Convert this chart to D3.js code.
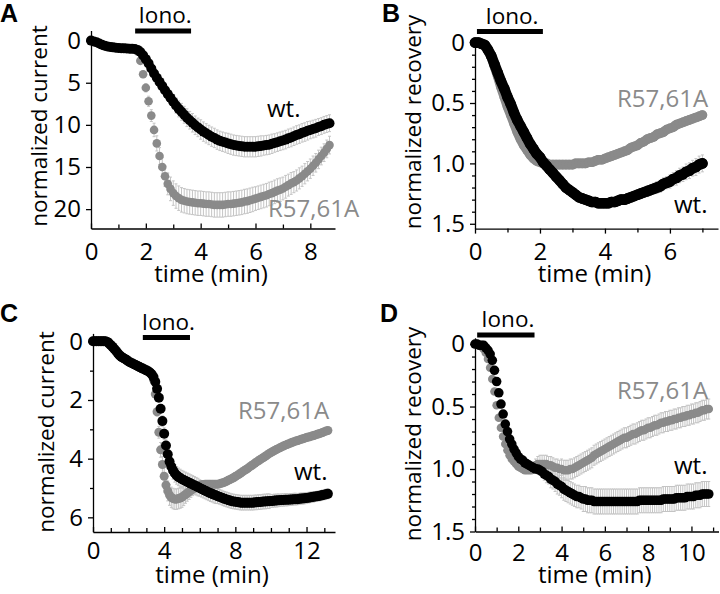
<!DOCTYPE html>
<html><head><meta charset="utf-8">
<script src="https://cdn.jsdelivr.net/npm/d3@7"></script>
<style>body{margin:0;background:#fff}svg{display:block}</style>
</head><body><svg id="fig" width="720" height="594"></svg>
<script>
// ---------------- DATA ----------------
// acquisition interval (minutes) between successive points
const SAMPLE_MIN = 0.1;

// Panel A : normalized current
const A_wt = [0,0.1,0.2,0.35,0.5,0.6,0.7,0.75,0.8,0.85,
0.88,0.9,0.92,0.94,0.96,0.98,1.0,1.1,1.35,1.75,
2.2,2.7,3.3,3.9,4.4,4.9,5.4,5.9,6.35,6.8,
7.25,7.7,8.1,8.45,8.8,9.15,9.45,9.75,10.05,10.3,
10.55,10.8,11,11.2,11.4,11.55,11.75,11.9,12,12.1,
12.2,12.3,12.4,12.45,12.5,12.55,12.6,12.6,12.6,12.6,
12.6,12.55,12.5,12.45,12.4,12.35,12.25,12.15,12.05,11.95,
11.85,11.75,11.6,11.5,11.35,11.2,11.1,10.95,10.85,10.7,
10.6,10.5,10.4,10.25,10.15,10,9.9,9.8];
const A_wt_err = [0.1,0.1,0.1,0.1,0.1,0.1,0.1,0.1,0.1,0.1,
0.1,0.1,0.1,0.1,0.1,0.1,0.1,0.1,0.1,0.1,
0.25,0.35,0.45,0.5,0.55,0.6,0.65,0.7,0.75,0.8,
0.85,0.9,0.95,1.0,1.0,1.05,1.05,1.1,1.1,1.1,
1.15,1.15,1.15,1.15,1.15,1.15,1.15,1.15,1.15,1.15,
1.2,1.2,1.2,1.2,1.2,1.2,1.2,1.2,1.2,1.2,
1.2,1.2,1.2,1.15,1.15,1.15,1.15,1.1,1.1,1.1,
1.1,1.1,1.1,1.1,1.1,1.1,1.1,1.1,1.1,1.1,
1.05,1.05,1.05,1.0,1.0,1.0,1.0,1.0];
const A_mut = [0,0.1,0.2,0.35,0.5,0.6,0.7,0.75,0.8,0.85,
0.88,0.9,0.92,0.94,0.96,0.98,1.0,1.3,2.4,4.0,
5.6,7.2,8.9,10.6,12.2,13.7,15.0,16.1,17.0,17.6,
18.1,18.45,18.7,18.9,19.0,19.1,19.15,19.2,19.25,19.3,
19.3,19.35,19.4,19.4,19.45,19.5,19.5,19.5,19.5,19.45,
19.4,19.4,19.35,19.3,19.25,19.2,19.1,19.05,18.95,18.85,
18.75,18.65,18.55,18.45,18.35,18.2,18.1,17.95,17.8,17.7,
17.55,17.35,17.15,16.95,16.8,16.6,16.35,16.1,15.8,15.5,
15.2,14.85,14.5,14.1,13.7,13.3,12.85,12.4];
const A_mut_err = [0.1,0.1,0.1,0.1,0.1,0.1,0.1,0.1,0.1,0.1,
0.1,0.1,0.1,0.1,0.1,0.1,0.1,0.2,0.3,0.4,
0.5,0.6,0.7,0.8,0.9,1.0,1.1,1.2,1.3,1.4,
1.45,1.45,1.45,1.45,1.45,1.45,1.45,1.45,1.45,1.45,
1.45,1.45,1.45,1.45,1.45,1.45,1.45,1.45,1.45,1.45,
1.45,1.45,1.45,1.45,1.45,1.45,1.45,1.45,1.45,1.45,
1.4,1.4,1.4,1.4,1.4,1.4,1.4,1.4,1.4,1.4,
1.35,1.35,1.3,1.3,1.25,1.25,1.25,1.2,1.2,1.15,
1.15,1.15,1.1,1.1,1.05,1.05,1.05,1.05];

// Panel B : normalized recovery
const B_wt = [0,0,0.01,0.02,0.06,0.11,0.18,0.25,0.32,0.38,
0.45,0.51,0.58,0.64,0.69,0.74,0.79,0.84,0.88,0.92,
0.95,0.99,1.02,1.05,1.08,1.11,1.14,1.17,1.2,1.22,
1.24,1.26,1.28,1.29,1.3,1.31,1.32,1.32,1.33,1.33,
1.33,1.33,1.32,1.32,1.31,1.3,1.3,1.29,1.28,1.27,
1.26,1.25,1.24,1.23,1.22,1.21,1.2,1.19,1.17,1.16,
1.15,1.13,1.12,1.1,1.09,1.07,1.06,1.04,1.03,1.01,
1.0];
const B_wt_err = [0.01,0.01,0.01,0.01,0.01,0.01,0.01,0.01,0.01,0.01,
0.01,0.01,0.01,0.01,0.01,0.01,0.01,0.01,0.01,0.01,
0.01,0.01,0.01,0.01,0.01,0.015,0.02,0.02,0.02,0.025,
0.03,0.03,0.03,0.03,0.03,0.03,0.03,0.03,0.03,0.03,
0.035,0.035,0.035,0.035,0.035,0.035,0.035,0.035,0.035,0.035,
0.04,0.04,0.04,0.045,0.045,0.045,0.05,0.05,0.05,0.05,
0.055,0.055,0.06,0.06,0.06,0.065,0.065,0.065,0.07,0.07,
0.07];
const B_mut = [0,0,0.01,0.03,0.07,0.12,0.2,0.28,0.37,0.45,
0.53,0.6,0.67,0.74,0.8,0.85,0.89,0.93,0.96,0.98,
0.99,1.0,1.0,1.01,1.01,1.01,1.01,1.01,1.01,1.01,
1.01,1.0,1.0,1.0,1.0,0.99,0.99,0.98,0.97,0.97,
0.96,0.95,0.94,0.93,0.92,0.91,0.9,0.89,0.87,0.86,
0.85,0.83,0.82,0.8,0.79,0.78,0.76,0.75,0.74,0.72,
0.71,0.7,0.68,0.67,0.66,0.65,0.64,0.63,0.62,0.61,
0.6];
const B_mut_err = [0.01,0.01,0.01,0.01,0.01,0.01,0.01,0.01,0.01,0.01,
0.01,0.01,0.01,0.01,0.01,0.01,0.01,0.01,0.01,0.01,
0.01,0.01,0.01,0.01,0.01,0.01,0.01,0.01,0.01,0.01,
0.01,0.01,0.01,0.01,0.01,0.01,0.01,0.01,0.01,0.01,
0.01,0.01,0.01,0.01,0.01,0.01,0.01,0.01,0.01,0.01,
0.01,0.01,0.01,0.01,0.01,0.01,0.01,0.01,0.01,0.01,
0.01,0.01,0.01,0.01,0.01,0.01,0.01,0.01,0.01,0.01,
0.01];

// Panel C : normalized current
const C_wt = [0,0,0,0,0,0,0,0,0.02,0.07,
0.13,0.19,0.26,0.33,0.41,0.48,0.53,0.57,0.6,0.64,
0.69,0.72,0.75,0.78,0.81,0.84,0.87,0.9,0.93,0.96,
0.99,1.02,1.06,1.12,1.22,1.38,1.62,1.92,2.3,2.72,
3.15,3.55,3.85,4.1,4.27,4.4,4.5,4.57,4.62,4.66,
4.7,4.73,4.76,4.79,4.82,4.85,4.88,4.91,4.94,4.97,
5.0,5.03,5.06,5.09,5.12,5.15,5.18,5.2,5.23,5.25,
5.28,5.3,5.32,5.35,5.37,5.39,5.41,5.43,5.45,5.46,
5.47,5.48,5.49,5.5,5.5,5.5,5.5,5.5,5.5,5.5,
5.5,5.49,5.49,5.48,5.48,5.47,5.46,5.46,5.45,5.45,
5.44,5.44,5.43,5.43,5.42,5.42,5.41,5.41,5.4,5.4,
5.4,5.39,5.39,5.38,5.38,5.38,5.37,5.36,5.36,5.35,
5.34,5.33,5.32,5.31,5.3,5.29,5.28,5.27,5.26,5.24,
5.23,5.21,5.2];
const C_wt_err = [0.03,0.03,0.03,0.03,0.03,0.03,0.03,0.03,0.03,0.03,
0.03,0.03,0.03,0.03,0.03,0.03,0.03,0.03,0.03,0.03,
0.03,0.03,0.03,0.03,0.03,0.03,0.03,0.03,0.03,0.03,
0.03,0.03,0.03,0.03,0.05,0.08,0.1,0.12,0.15,0.18,
0.2,0.22,0.25,0.27,0.3,0.3,0.3,0.3,0.3,0.3,
0.3,0.3,0.3,0.3,0.3,0.3,0.3,0.3,0.3,0.3,
0.28,0.28,0.28,0.28,0.28,0.28,0.28,0.28,0.28,0.28,
0.25,0.25,0.25,0.25,0.25,0.25,0.25,0.25,0.25,0.25,
0.25,0.25,0.25,0.25,0.25,0.25,0.25,0.25,0.25,0.25,
0.25,0.25,0.25,0.25,0.25,0.25,0.25,0.25,0.25,0.25,
0.22,0.22,0.22,0.22,0.22,0.21,0.21,0.21,0.21,0.21,
0.2,0.2,0.2,0.2,0.2,0.19,0.19,0.19,0.19,0.19,
0.18,0.18,0.18,0.18,0.18,0.17,0.17,0.17,0.17,0.17,
0.17,0.17,0.17];
const C_mut = [0,0,0,0,0,0,0,0,0.02,0.07,
0.13,0.19,0.26,0.33,0.41,0.48,0.53,0.57,0.6,0.64,
0.69,0.72,0.75,0.78,0.81,0.84,0.87,0.9,0.93,0.96,
0.99,1.02,1.06,1.12,1.3,1.8,2.4,3.1,3.7,4.2,
4.6,4.9,5.1,5.24,5.32,5.36,5.38,5.38,5.36,5.34,
5.31,5.27,5.22,5.17,5.13,5.08,5.04,5.0,4.97,4.94,
4.91,4.89,4.88,4.87,4.87,4.87,4.87,4.87,4.87,4.87,
4.87,4.86,4.84,4.82,4.8,4.77,4.74,4.71,4.68,4.65,
4.61,4.57,4.53,4.49,4.45,4.41,4.37,4.33,4.28,4.24,
4.2,4.15,4.11,4.07,4.03,3.99,3.95,3.91,3.87,3.83,
3.79,3.76,3.72,3.69,3.66,3.63,3.6,3.57,3.54,3.52,
3.49,3.47,3.44,3.42,3.4,3.38,3.36,3.34,3.32,3.3,
3.28,3.26,3.25,3.23,3.21,3.19,3.17,3.15,3.13,3.11,
3.08,3.06,3.04];
const C_mut_err = [0.03,0.03,0.03,0.03,0.03,0.03,0.03,0.03,0.03,0.03,
0.03,0.03,0.03,0.03,0.03,0.03,0.03,0.03,0.03,0.03,
0.03,0.03,0.03,0.03,0.03,0.03,0.03,0.03,0.03,0.03,
0.03,0.03,0.03,0.03,0.05,0.1,0.15,0.2,0.25,0.28,
0.3,0.32,0.34,0.35,0.35,0.35,0.35,0.35,0.35,0.35,
0.35,0.33,0.3,0.28,0.26,0.24,0.22,0.2,0.18,0.16,
0.15,0.14,0.13,0.12,0.12,0.11,0.11,0.1,0.1,0.1,
0.1,0.1,0.1,0.1,0.1,0.1,0.1,0.1,0.1,0.1,
0.1,0.1,0.1,0.1,0.1,0.1,0.1,0.1,0.1,0.1,
0.1,0.1,0.1,0.1,0.1,0.1,0.1,0.1,0.1,0.1,
0.09,0.09,0.09,0.09,0.09,0.09,0.09,0.09,0.09,0.09,
0.09,0.09,0.09,0.09,0.09,0.08,0.08,0.08,0.08,0.08,
0.08,0.08,0.08,0.08,0.08,0.08,0.08,0.08,0.08,0.08,
0.08,0.08,0.08];

// Panel D : normalized recovery
const D_wt = [0,0,0.01,0.01,0.01,0.03,0.05,0.08,0.13,0.21,
0.3,0.39,0.48,0.56,0.64,0.7,0.76,0.8,0.84,0.87,
0.9,0.92,0.93,0.95,0.96,0.97,0.98,0.99,1.0,1.0,
1.01,1.02,1.04,1.05,1.06,1.08,1.09,1.1,1.12,1.13,
1.14,1.16,1.17,1.18,1.19,1.2,1.21,1.22,1.22,1.23,
1.24,1.24,1.25,1.25,1.25,1.26,1.26,1.26,1.26,1.26,
1.26,1.26,1.26,1.26,1.26,1.26,1.26,1.26,1.26,1.26,
1.26,1.26,1.26,1.26,1.26,1.26,1.25,1.25,1.25,1.25,
1.25,1.25,1.25,1.25,1.25,1.25,1.25,1.24,1.24,1.24,
1.24,1.24,1.24,1.23,1.23,1.23,1.23,1.23,1.22,1.22,
1.22,1.22,1.21,1.21,1.21,1.2,1.2,1.2,1.2];
const D_wt_err = [0.01,0.01,0.01,0.01,0.01,0.01,0.01,0.01,0.01,0.01,
0.01,0.01,0.01,0.01,0.01,0.01,0.01,0.01,0.01,0.01,
0.01,0.01,0.01,0.01,0.01,0.02,0.02,0.03,0.03,0.04,
0.04,0.05,0.05,0.06,0.06,0.07,0.07,0.08,0.08,0.08,
0.09,0.09,0.09,0.09,0.09,0.09,0.09,0.09,0.09,0.09,
0.1,0.1,0.1,0.1,0.1,0.1,0.1,0.1,0.1,0.1,
0.1,0.1,0.1,0.1,0.1,0.1,0.1,0.1,0.1,0.1,
0.1,0.1,0.1,0.1,0.1,0.1,0.1,0.1,0.1,0.1,
0.1,0.1,0.1,0.1,0.1,0.1,0.1,0.1,0.1,0.1,
0.1,0.1,0.1,0.1,0.1,0.1,0.1,0.1,0.1,0.1,
0.1,0.1,0.1,0.1,0.1,0.1,0.1,0.1,0.1];
const D_mut = [0,0,0.01,0.02,0.04,0.07,0.12,0.19,0.28,0.38,
0.49,0.59,0.67,0.74,0.8,0.85,0.89,0.92,0.94,0.96,
0.98,0.99,1.0,1.01,1.01,1.01,1.01,0.99,0.97,0.96,
0.96,0.96,0.96,0.96,0.97,0.97,0.98,0.99,0.99,1.0,
1.0,1.01,1.01,1.01,1.0,1.0,0.99,0.98,0.97,0.96,
0.95,0.94,0.93,0.92,0.91,0.89,0.88,0.87,0.86,0.85,
0.84,0.83,0.82,0.81,0.8,0.79,0.78,0.77,0.76,0.75,
0.75,0.74,0.73,0.72,0.72,0.71,0.7,0.69,0.69,0.68,
0.67,0.67,0.66,0.65,0.65,0.64,0.63,0.63,0.62,0.62,
0.61,0.61,0.6,0.6,0.59,0.59,0.58,0.58,0.57,0.57,
0.56,0.56,0.55,0.55,0.54,0.53,0.53,0.52,0.52];
const D_mut_err = [0.01,0.01,0.01,0.01,0.01,0.01,0.01,0.01,0.01,0.01,
0.01,0.01,0.01,0.01,0.01,0.01,0.01,0.01,0.01,0.01,
0.01,0.01,0.01,0.01,0.01,0.01,0.01,0.03,0.05,0.06,
0.07,0.07,0.07,0.07,0.07,0.07,0.07,0.07,0.07,0.07,
0.08,0.08,0.08,0.08,0.08,0.08,0.08,0.08,0.08,0.08,
0.08,0.08,0.08,0.08,0.08,0.08,0.08,0.08,0.08,0.08,
0.08,0.08,0.08,0.08,0.08,0.08,0.08,0.08,0.08,0.08,
0.08,0.08,0.08,0.08,0.08,0.08,0.08,0.08,0.08,0.08,
0.08,0.08,0.08,0.08,0.08,0.08,0.08,0.08,0.08,0.08,
0.08,0.08,0.08,0.08,0.08,0.08,0.08,0.08,0.08,0.08,
0.08,0.08,0.08,0.08,0.08,0.08,0.08,0.08,0.08];

// ionomycin application windows (minutes)
const A_iono = [1.61, 3.65];
const B_iono = [0.06, 2.09];
const C_iono = [2.8, 5.45];
const D_iono = [0.1, 2.75];

// tick values / labels
const A_xTicks = [0,2,4,6,8],  A_xMinor = [1,3,5,7];
const A_yTicks = [0,5,10,15,20];
const B_xTicks = [0,2,4,6],    B_xMinor = [1,3,5,7];
const B_yTicks = [0,0.5,1.0,1.5], B_yLabels = ["0","0.5","1.0","1.5"];
const B_yMinor = [0.1,0.2,0.3,0.4,0.6,0.7,0.8,0.9,1.1,1.2,1.3,1.4];
const C_xTicks = [0,4,8,12],   C_xMinor = [1,2,3,5,6,7,9,10,11,13];
const C_yTicks = [0,2,4,6],    C_yMinor = [1,3,5];
const D_xTicks = [0,2,4,6,8,10], D_xMinor = [1,3,5,7,9,11];
const D_yTicks = [0,0.5,1.0,1.5], D_yLabels = ["0","0.5","1.0","1.5"];
const D_yMinor = [0.1,0.2,0.3,0.4,0.6,0.7,0.8,0.9,1.1,1.2,1.3,1.4];

const SERIES_WT = "wt.", SERIES_MUT = "R57,61A";

// ---------------- DRAWING ----------------
const FONT = "'Open Sans','DejaVu Sans',sans-serif";
const FS = 24, FS_YL = 22.5, FS_IONO = 22.5;
const BLACK = "#000", GRAY = "#8a8a8a", ERRC = "#c4c4c4";
const svg = d3.select("#fig");

function drawPanel(p) {
  const x = d3.scaleLinear().domain(p.xDomain).range(p.xRange);
  const y = d3.scaleLinear().domain(p.yDomain).range(p.yRange);
  const g = svg.append("g");
  const x0 = p.xRange[0], yB = p.yRange[1];

  // axes
  g.append("g").attr("transform", `translate(${x0},0)`)
    .call(d3.axisLeft(y).tickValues(p.yTicks).tickSizeInner(5).tickSizeOuter(0).tickPadding(5)
      .tickFormat((d,i) => p.yLabels ? p.yLabels[i] : d3.format("d")(d)));
  if (p.yMinor) {
    g.append("g").attr("transform", `translate(${x0},0)`)
      .call(d3.axisLeft(y).tickValues(p.yMinor).tickSize(3).tickFormat(""))
      .call(s => s.select(".domain").remove());
  }
  g.append("g").attr("transform", `translate(0,${yB})`)
    .call(d3.axisBottom(x).tickValues(p.xTicks).tickSizeInner(p.xDir*5).tickSizeOuter(0)
      .tickPadding(p.xPad).tickFormat(d3.format("d")));
  g.append("g").attr("transform", `translate(0,${yB})`)
    .call(d3.axisBottom(x).tickValues(p.xMinor).tickSize(p.xDir*4).tickFormat(""))
    .call(s => s.select(".domain").remove());
  g.selectAll(".domain, .tick line").attr("stroke", BLACK).attr("stroke-width", 1.3);
  g.selectAll(".tick text").attr("font-family", FONT).attr("font-size", FS).attr("fill", BLACK);

  // axis titles
  g.append("text").attr("x", (p.xRange[0] + p.xRange[1]) / 2 - 2).attr("y", p.xTitleY)
    .attr("text-anchor", "middle").attr("font-family", FONT).attr("font-size", FS).text("time (min)");
  g.append("text").attr("transform", `translate(${p.yLabelX},${p.yLabelY}) rotate(-90)`)
    .attr("text-anchor", "middle").attr("font-family", FONT).attr("font-size", FS_YL).text(p.yLabel);

  // panel letter
  g.append("text").attr("x", p.letterX).attr("y", p.letterY)
    .attr("font-family", "'Liberation Sans',Arial,sans-serif").attr("font-weight", "bold")
    .attr("font-size", 25).text(p.letter);

  // ionomycin bar
  g.append("line").attr("x1", x(p.iono[0])).attr("x2", x(p.iono[1]))
    .attr("y1", p.ionoY).attr("y2", p.ionoY).attr("stroke", BLACK).attr("stroke-width", 5);
  g.append("text").attr("x", (x(p.iono[0]) + x(p.iono[1])) / 2 + 2).attr("y", p.ionoY - 8)
    .attr("text-anchor", "middle").attr("font-family", FONT).attr("font-size", FS_IONO).text("Iono.");

  // error bars
  const eg = g.append("g").attr("stroke", ERRC).attr("stroke-width", 1);
  p.series.forEach(s => {
    const pts = s.values.map((v, i) => ({t: i * SAMPLE_MIN, v, e: s.err[i]}));
    eg.append("g").selectAll("line").data(pts).join("line")
      .attr("x1", d => x(d.t)).attr("x2", d => x(d.t))
      .attr("y1", d => y(d.v - d.e)).attr("y2", d => y(d.v + d.e));
    eg.append("g").selectAll("path").data(pts).join("path")
      .attr("d", d => `M${x(d.t)-1.5},${y(d.v-d.e)}h3M${x(d.t)-1.5},${y(d.v+d.e)}h3`);
  });
  // points (gray first, black on top)
  p.series.forEach(s => {
    const pts = s.values.map((v, i) => ({t: i * SAMPLE_MIN, v}));
    if (p.smooth) {
      g.append("path").datum(pts)
        .attr("d", d3.line().x(d => x(d.t)).y(d => y(d.v)).curve(d3.curveMonotoneX))
        .attr("fill", "none").attr("stroke", s.color).attr("stroke-width", 2 * s.r)
        .attr("stroke-linecap", "round").attr("stroke-linejoin", "round");
    }
    g.append("g").selectAll("circle").data(pts).join("circle")
      .attr("cx", d => x(d.t)).attr("cy", d => y(d.v)).attr("r", s.r).attr("fill", s.color);
  });

  // series labels
  p.labels.forEach(l => {
    g.append("text").attr("x", l.x).attr("y", l.y).attr("font-family", FONT)
      .attr("font-size", FS).attr("fill", l.color).text(l.text);
  });
}

drawPanel({
  letter: "A", letterX: 0, letterY: 22,
  xDomain: [0, 8.9], xRange: [91, 335], yDomain: [-1.2, 22.3], yRange: [30.5, 228.5],
  xTicks: A_xTicks, xMinor: A_xMinor, xDir: -1, xPad: 14, xTitleY: 282, yTicks: A_yTicks,
  yLabel: "normalized current", yLabelX: 47, yLabelY: 126,
  iono: A_iono, ionoY: 31,
  series: [{values: A_mut, err: A_mut_err, color: GRAY, r: 4.3},
           {values: A_wt, err: A_wt_err, color: BLACK, r: 5}],
  labels: [{text: SERIES_WT, x: 267, y: 117, color: BLACK},
           {text: SERIES_MUT, x: 268, y: 217, color: GRAY}]
});
drawPanel({
  letter: "B", letterX: 382, letterY: 22,
  xDomain: [0, 7.48], xRange: [475, 718], yDomain: [-0.03, 1.54], yRange: [39, 228.6],
  xTicks: B_xTicks, xMinor: B_xMinor, xDir: 1, xPad: 9, xTitleY: 282,
  yTicks: B_yTicks, yLabels: B_yLabels, yMinor: B_yMinor,
  yLabel: "normalized recovery", yLabelX: 421, yLabelY: 122,
  iono: B_iono, ionoY: 31.5, smooth: true,
  series: [{values: B_mut, err: B_mut_err, color: GRAY, r: 4.8},
           {values: B_wt, err: B_wt_err, color: BLACK, r: 5.3}],
  labels: [{text: SERIES_MUT, x: 617, y: 107, color: GRAY},
           {text: SERIES_WT, x: 674, y: 213, color: BLACK}]
});
drawPanel({
  letter: "C", letterX: 0, letterY: 322,
  xDomain: [0, 13.6], xRange: [93, 335], yDomain: [-0.27, 6.5], yRange: [333.4, 532],
  xTicks: C_xTicks, xMinor: C_xMinor, xDir: -1, xPad: 10, xTitleY: 583,
  yTicks: C_yTicks, yMinor: C_yMinor,
  yLabel: "normalized current", yLabelX: 54, yLabelY: 432,
  iono: C_iono, ionoY: 337.5,
  series: [{values: C_mut, err: C_mut_err, color: GRAY, r: 4.5},
           {values: C_wt, err: C_wt_err, color: BLACK, r: 5}],
  labels: [{text: SERIES_MUT, x: 238, y: 419, color: GRAY},
           {text: SERIES_WT, x: 294, y: 480, color: BLACK}]
});
drawPanel({
  letter: "D", letterX: 380, letterY: 322,
  xDomain: [0, 11.25], xRange: [475, 718.5], yDomain: [-0.05, 1.5], yRange: [337.8, 531.5],
  xTicks: D_xTicks, xMinor: D_xMinor, xDir: -1, xPad: 12, xTitleY: 583,
  yTicks: D_yTicks, yLabels: D_yLabels, yMinor: D_yMinor,
  yLabel: "normalized recovery", yLabelX: 421, yLabelY: 434,
  iono: D_iono, ionoY: 335,
  series: [{values: D_mut, err: D_mut_err, color: GRAY, r: 4.3},
           {values: D_wt, err: D_wt_err, color: BLACK, r: 4.8}],
  labels: [{text: SERIES_MUT, x: 617, y: 399, color: GRAY},
           {text: SERIES_WT, x: 674, y: 474, color: BLACK}]
});
</script>
</body></html>
